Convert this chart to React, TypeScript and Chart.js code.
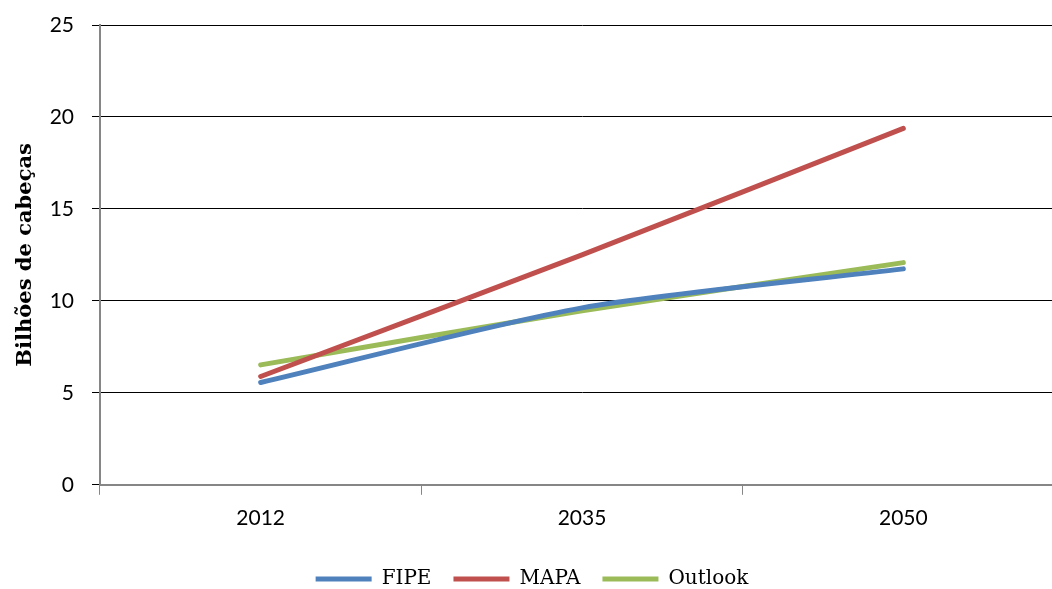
import React, { useEffect, useRef } from "react";
import { Chart, registerables } from "chart.js";

Chart.register(...registerables);

const categories = ["2012", "2035", "2050"];
const fipe = [5.56, 9.62, 11.74];
const mapa = [5.89, 12.5, 19.38];
const outlook = [6.52, 9.46, 12.08];
const yTicks = [0, 5, 10, 15, 20, 25];

export default function App() {
  const ref = useRef<HTMLCanvasElement>(null);
  useEffect(() => {
    if (!ref.current) return;
    const mk = (label: string, data: number[], color: string) => ({
      label,
      data,
      borderColor: color,
      backgroundColor: color,
      borderWidth: 5,
      borderCapStyle: "round" as const,
      borderJoinStyle: "round" as const,
      pointRadius: 0,
      pointStyle: "line" as const,
      tension: 0.25,
      fill: false,
    });
    const chart = new Chart(ref.current, {
      type: "line",
      data: {
        labels: categories,
        datasets: [
          mk("FIPE", fipe, "#4F81BD"),
          mk("MAPA", mapa, "#C0504D"),
          mk("Outlook", outlook, "#9BBB59"),
        ],
      },
      options: {
        animation: false,
        responsive: true,
        maintainAspectRatio: false,
        layout: { padding: { top: 25, left: 0, right: 2, bottom: 2 } },
        plugins: {
          tooltip: { enabled: false },
          legend: {
            position: "bottom",
            labels: {
              usePointStyle: true,
              pointStyleWidth: 56,
              boxHeight: 20,
              padding: 22,
              color: "#000",
              font: { family: "'DejaVu Serif'", size: 20 },
            },
          },
        },
        scales: {
          x: {
            offset: true,
            afterFit: (s: any) => {
              s.height = s.height + 5;
            },
            grid: {
              offset: true,
              drawOnChartArea: false,
              drawTicks: true,
              tickLength: 10,
              color: "#868686",
            },
            border: { color: "#868686", width: 2 },
            ticks: {
              color: "#000",
              padding: 11,
              font: { family: "Lato", size: 21 },
            },
          },
          y: {
            min: 0,
            max: 25,
            afterBuildTicks: (s: any) => {
              s.ticks = yTicks.map((v) => ({ value: v }));
            },
            afterFit: (s: any) => {
              s.width = 100;
              s.paddingTop = 0;
              s.paddingBottom = 0;
            },
            grid: { color: "#000", lineWidth: 1, tickLength: 8 },
            border: { color: "#868686", width: 2 },
            ticks: {
              color: "#000",
              padding: 18,
              font: { family: "Lato", size: 21 },
            },
            title: {
              display: true,
              text: "Bilhões de cabeças",
              color: "#000",
              font: { family: "'DejaVu Serif'", size: 21, weight: "bold" },
              padding: { top: 13, bottom: 0 },
            },
          },
        },
      },
    });
    return () => chart.destroy();
  }, []);
  return (
    <div style={{ position: "fixed", left: 0, top: 0, width: 1052, height: 589, overflow: "hidden", background: "#fff" }}>
      <div style={{ position: "relative", width: 1066, height: 601 }}>
        <canvas ref={ref} />
      </div>
    </div>
  );
}
